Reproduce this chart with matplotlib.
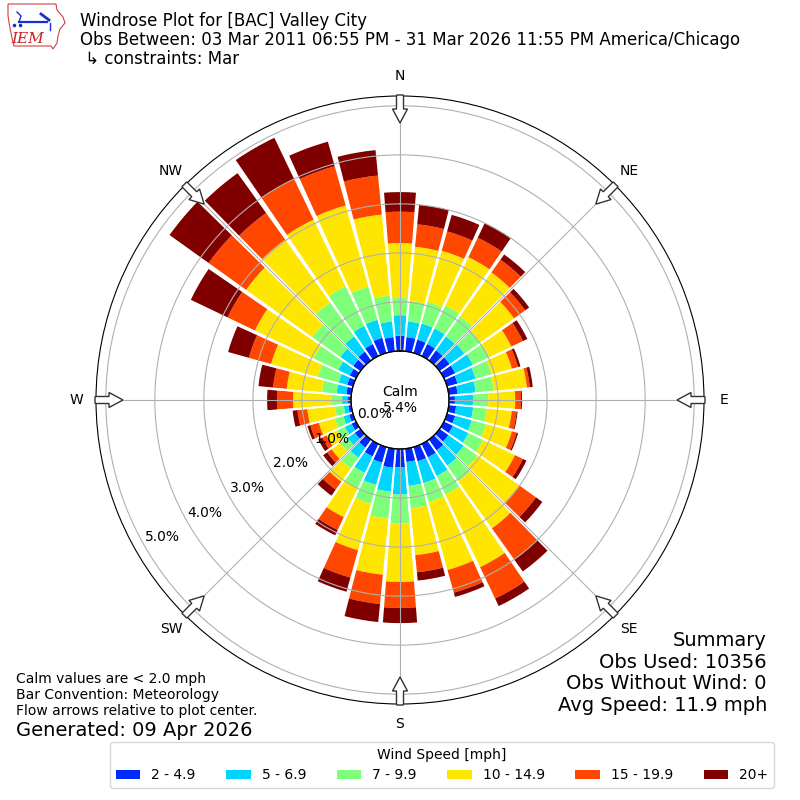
import numpy as np
import matplotlib
matplotlib.use("Agg")
import matplotlib.pyplot as plt
from matplotlib.patches import Polygon, Patch

# direction bins (deg, meteorological: wind from)
directions = np.arange(0, 360, 10)
speed_labels = ["2 - 4.9", "5 - 6.9", "7 - 9.9", "10 - 14.9", "15 - 19.9", "20+"]

# cumulative frequency (%) at the outer edge of each speed bin, per direction
cum_2 = [0.31, 0.29, 0.28, 0.27, 0.25, 0.25, 0.25, 0.22, 0.18, 0.12, 0.15, 0.17,
         0.20, 0.22, 0.27, 0.30, 0.30, 0.27, 0.37, 0.39, 0.33, 0.28, 0.20, 0.14,
         0.10, 0.08, 0.06, 0.06, 0.10, 0.12, 0.14, 0.18, 0.22, 0.27, 0.32, 0.29]
cum_5 = [0.73, 0.61, 0.62, 0.62, 0.60, 0.62, 0.65, 0.60, 0.55, 0.49, 0.50, 0.52,
         0.55, 0.60, 0.65, 0.72, 0.76, 0.76, 0.93, 0.88, 0.80, 0.65, 0.45, 0.32,
         0.25, 0.20, 0.15, 0.18, 0.30, 0.30, 0.40, 0.50, 0.60, 0.68, 0.70, 0.61]
cum_7 = [1.08, 1.03, 1.08, 1.14, 1.10, 1.02, 1.02, 0.94, 0.92, 0.80, 0.78, 0.82,
         0.88, 0.94, 1.04, 1.14, 1.16, 1.22, 1.52, 1.43, 1.20, 1.00, 0.72, 0.50,
         0.42, 0.38, 0.33, 0.39, 0.60, 0.74, 0.95, 1.20, 1.45, 1.57, 1.40, 1.14]
cum_10 = [2.20, 2.14, 2.16, 2.23, 2.20, 1.86, 1.52, 1.37, 1.60, 1.35, 1.29, 1.37,
          1.60, 1.99, 2.22, 2.78, 2.60, 2.18, 2.71, 2.58, 2.18, 1.65, 1.05, 0.72,
          0.66, 0.72, 0.90, 1.18, 1.32, 1.73, 2.28, 2.86, 3.02, 3.08, 3.12, 2.80]
cum_15 = [2.84, 2.60, 2.57, 2.67, 2.52, 2.14, 1.78, 1.50, 1.66, 1.47, 1.39, 1.47,
          1.78, 2.41, 3.00, 3.49, 3.08, 2.53, 3.24, 3.18, 2.76, 1.94, 1.25, 0.83,
          0.76, 0.90, 1.10, 1.51, 1.60, 2.20, 2.90, 3.80, 3.69, 4.00, 3.95, 3.60]
cum_20 = [3.24, 3.00, 2.92, 3.00, 2.65, 2.24, 1.88, 1.55, 1.72, 1.49, 1.41, 1.50,
          1.86, 2.57, 3.30, 3.66, 3.17, 2.70, 3.55, 3.55, 3.06, 2.06, 1.40, 0.93,
          0.85, 0.96, 1.20, 1.71, 1.90, 2.64, 3.73, 4.78, 4.69, 4.93, 4.47, 4.12]

ring_values = [0, 1, 2, 3, 4, 5]
compass = ["N", "NE", "E", "SE", "S", "SW", "W", "NW"]
calm_pct = 5.4

colors = plt.cm.jet(np.linspace(0, 1, 7))[1:]

fig = plt.figure(figsize=(8, 8), dpi=100)
ax = fig.add_axes([0.12, 0.12, 0.76, 0.76], projection="polar")
ax.set_theta_zero_location("N")
ax.set_theta_direction(-1)
ax.set_rorigin(-1.0)
ax.set_ylim(0, 5.2)
ax.set_axisbelow(False)

theta = np.radians(directions)
edges = [np.zeros(len(directions)), np.array(cum_2), np.array(cum_5),
         np.array(cum_7), np.array(cum_10), np.array(cum_15), np.array(cum_20)]
for i in range(6):
    ax.bar(theta, edges[i + 1] - edges[i], width=np.radians(8.8),
           bottom=edges[i], color=colors[i], edgecolor="none", zorder=1)

# thin white separators between the bars
for b in np.radians(np.arange(5, 360, 10)):
    ax.plot([b, b], [0, 5.2], color="white", lw=1.4, zorder=1.5)

ax.set_yticks(ring_values)
ax.set_yticklabels([])
ax.set_xticks(np.radians(np.arange(0, 360, 45)))
ax.set_xticklabels([])
ax.grid(True, color="#b0b0b0", lw=0.8)

# calm circle
circ = np.linspace(0, 2 * np.pi, 300)
ax.plot(circ, np.zeros_like(circ), color="black", lw=1.0, zorder=3, clip_on=False)
ax.text(0, -1, "Calm\n%.1f%%" % calm_pct, ha="center", va="center", fontsize=10, zorder=4)

# ring labels
for v in ring_values:
    ax.text(np.radians(240), v - 0.41, "%.1f%%" % v, ha="center", va="center",
            fontsize=10, zorder=4)

# compass labels
for k, lab in enumerate(compass):
    ax.text(np.radians(45 * k), 5.6, lab, ha="center", va="center", fontsize=10,
            clip_on=False)

# flow arrows around the edge
W = H = 800.0
for k in range(8):
    a = np.radians(45 * k)
    u = np.array([np.sin(a), np.cos(a)])
    v = np.array([np.cos(a), -np.sin(a)])
    pts = [(305, -3.5), (291, -3.5), (291, -7.5), (277, 0), (291, 7.5), (291, 3.5), (305, 3.5)]
    xy = [((400 + r * u[0] + w * v[0]) / W, (400 + r * u[1] + w * v[1]) / H) for r, w in pts]
    fig.patches.append(Polygon(xy, closed=True, facecolor="white", edgecolor="#333333",
                               lw=1.0, transform=fig.transFigure, zorder=5))

# header
fig.text(80 / W, 1 - 12 / H,
         "Windrose Plot for [BAC] Valley City\n"
         "Obs Between: 03 Mar 2011 06:55 PM - 31 Mar 2026 11:55 PM America/Chicago\n"
         " \u21b3 constraints: Mar",
         ha="left", va="top", fontsize=12, linespacing=1.05)

# logo (rough sketch)
lax = fig.add_axes([0, 1 - 56 / H, 70 / W, 56 / H])
lax.set_xlim(0, 70)
lax.set_ylim(56, 0)
lax.axis("off")
outline = [(8, 4), (56, 4), (57, 10), (63, 17), (65, 23), (60, 29), (58, 36), (57, 43),
           (53, 49), (51, 46), (14, 46), (12, 38), (10, 28), (8, 16)]
lax.add_patch(Polygon(outline, closed=True, facecolor="white", edgecolor="#d04040", lw=0.8))
lax.plot([19, 47], [22, 22], color="#1a2fd0", lw=1.6)
lax.plot([17, 21, 19], [12, 16, 22], color="#1a2fd0", lw=1.0)
lax.plot([41, 45, 49], [14, 17, 20], color="#1a2fd0", lw=2.0)
lax.plot([50, 50], [23, 30], color="#1a2fd0", lw=1.0)
lax.plot([14, 20], [25, 25], "o", color="#1a2fd0", ms=1.6)
lax.text(28, 39, "IEM", ha="center", va="center", color="#c82020", fontsize=11,
         family="DejaVu Serif", style="italic")

# footer notes
fig.text(16 / W, 1 - 672 / H,
         "Calm values are < 2.0 mph\nBar Convention: Meteorology\n"
         "Flow arrows relative to plot center.",
         ha="left", va="top", fontsize=10, linespacing=1.2)
fig.text(16 / W, 1 - 730 / H, "Generated: 09 Apr 2026", ha="left", va="center", fontsize=14)

fig.text(767 / W, 1 - 631 / H,
         "Summary\nObs Used: 10356\nObs Without Wind: 0\nAvg Speed: 11.9 mph",
         ha="right", va="top", fontsize=14, linespacing=1.17)

handles = [Patch(facecolor=colors[i], label=speed_labels[i]) for i in range(6)]
fig.legend(handles=handles, loc="center", bbox_to_anchor=(442 / W, 1 - 765 / H), ncol=6,
           title="Wind Speed [mph]", fontsize=10, title_fontsize=10,
           handlelength=1.75, columnspacing=2.2)

fig.savefig("out.png", dpi=100)
